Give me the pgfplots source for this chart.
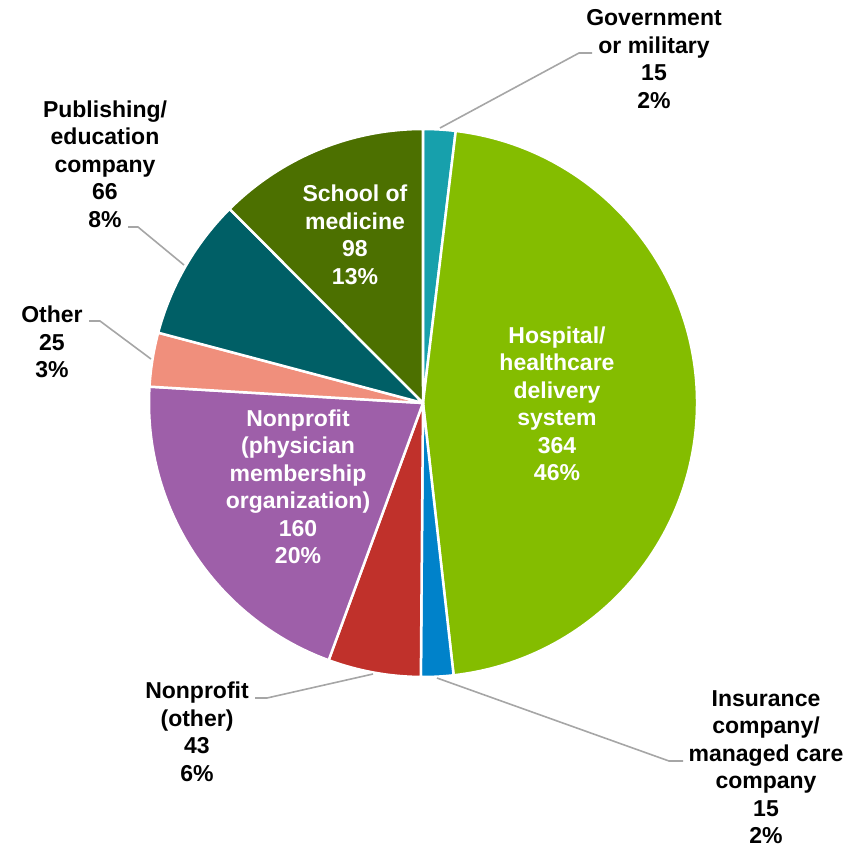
\documentclass[border=0pt]{standalone}
\usepackage{pgfplots}
\pgfplotsset{compat=1.18}
\usepackage{fontspec}
\setmainfont{Liberation Sans}
\definecolor{gov}{RGB}{23,160,172}
\definecolor{hosp}{RGB}{132,189,0}
\definecolor{ins}{RGB}{0,130,202}
\definecolor{npo}{RGB}{192,49,43}
\definecolor{npp}{RGB}{158,95,169}
\definecolor{oth}{RGB}{240,143,124}
\definecolor{pub}{RGB}{0,95,102}
\definecolor{sch}{RGB}{76,112,0}
\definecolor{lead}{RGB}{166,166,166}
\tikzset{lbl/.style={font=\fontsize{23}{27.5}\selectfont\bfseries, align=center, inner sep=0pt}}
% value / colour, clockwise from the top
\def\piedata{15/gov, 364/hosp, 15/ins, 43/npo, 160/npp, 25/oth, 66/pub, 98/sch}
\begin{document}
\begin{tikzpicture}
\xdef\total{0}
\foreach \v/\c in \piedata {\pgfmathsetmacro\t{\total+\v}\xdef\total{\t}}
\begin{axis}[
  width=857pt, height=846pt, scale only axis,
  xmin=0, xmax=857, ymin=0, ymax=846, y dir=reverse,
  hide axis, clip=false,
]
\coordinate (SW) at (axis cs:0,846);
\coordinate (NE) at (axis cs:857,0);
\xdef\cumang{90}
\foreach \v/\c in \piedata {
  \pgfmathsetmacro\sweep{\v/\total*360}
  \pgfmathsetmacro\endang{\cumang-\sweep}
  \edef\temp{\noexpand\fill[\c, draw=white, line width=2.5pt, line join=round] (axis cs:423,403) -- ++(\cumang:274pt) arc[start angle=\cumang, end angle=\endang, radius=274pt] -- cycle;}
  \temp
  \xdef\cumang{\endang}
}
% leader lines
\draw[lead, line width=1.6pt] (axis cs:440,128) -- (axis cs:579,53) -- (axis cs:592,53);
\draw[lead, line width=1.6pt] (axis cs:437,678) -- (axis cs:669,761) -- (axis cs:683,761);
\draw[lead, line width=1.6pt] (axis cs:373,674) -- (axis cs:267,698) -- (axis cs:255,698);
\draw[lead, line width=1.6pt] (axis cs:151,359) -- (axis cs:100,321) -- (axis cs:89,321);
\draw[lead, line width=1.6pt] (axis cs:184,265) -- (axis cs:138,227) -- (axis cs:128,227);
% labels
\node[lbl, text=white] at (axis cs:557,404) {Hospital/\\healthcare\\delivery\\system\\364\\46\%};
\node[lbl, text=white] at (axis cs:298,487) {Nonprofit\\(physician\\membership\\organization)\\160\\20\%};
\node[lbl, text=white] at (axis cs:355,235) {School of\\medicine\\98\\13\%};
\node[lbl] at (axis cs:654,59) {Government\\or military\\15\\2\%};
\node[lbl] at (axis cs:766,767) {Insurance\\company/\\managed care\\company\\15\\2\%};
\node[lbl] at (axis cs:197,732) {Nonprofit\\(other)\\43\\6\%};
\node[lbl] at (axis cs:52,342) {Other\\25\\3\%};
\node[lbl] at (axis cs:105,164) {Publishing/\\education\\company\\66\\8\%};
\end{axis}
\pgfresetboundingbox
\path (SW) rectangle (NE);
\end{tikzpicture}
\end{document}
